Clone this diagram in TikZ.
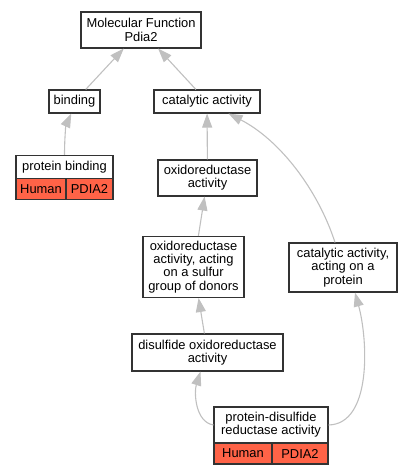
\documentclass[tikz,border=0pt]{standalone}
\usepackage{fontspec}
\setmainfont{Liberation Sans}
\usetikzlibrary{arrows.meta,calc}
\definecolor{edgec}{HTML}{C0C0C0}
\definecolor{boxc}{HTML}{333333}
\definecolor{hit}{HTML}{FF6347}
\begin{document}
\begin{tikzpicture}[x=1bp,y=-1bp,
  box/.style={draw=boxc, line width=1.1bp, fill=white, align=center, inner sep=0pt,
    font=\fontsize{12.9bp}{13.3bp}\selectfont},
  cell/.style={box, fill=hit},
  edge/.style={draw=edgec, line width=1.1bp, -{Triangle[length=14bp,width=10bp]}}]
\useasboundingbox (0,0) rectangle (412,475);

% nodes
\node[box, minimum width=120bp, minimum height=36bp] (mf) at (141,30) {Molecular Function\\Pdia2};
\node[box, minimum width=51bp, minimum height=23bp] (bind) at (74.5,101.5) {binding};
\node[box, minimum width=106bp, minimum height=23bp] (cat) at (207,101.5) {catalytic activity};
\node[box, minimum width=97bp, minimum height=23bp] (pb) at (64.5,167) {protein binding};
\node[cell, minimum width=50bp, minimum height=21bp] (pbh) at (41,189) {Human};
\node[cell, minimum width=47bp, minimum height=21bp] (pbp) at (89.5,189) {PDIA2};
\node[box, minimum width=99bp, minimum height=36bp] (ox) at (207.5,178) {oxidoreductase\\activity};
\node[box, minimum width=101bp, minimum height=61bp] (sulf) at (193.5,267) {oxidoreductase\\activity, acting\\on a sulfur\\group of donors};
\node[box, minimum width=108bp, minimum height=49bp] (catp) at (343,267.5) {catalytic activity,\\acting on a\\protein};
\node[box, minimum width=151bp, minimum height=37bp] (dis) at (207.5,352.5) {disulfide oxidoreductase\\activity};
\node[box, minimum width=114bp, minimum height=36bp] (pdr) at (271,425) {protein-disulfide\\reductase activity};
\node[cell, minimum width=58bp, minimum height=21bp] (pdrh) at (243,453.5) {Human};
\node[cell, minimum width=56bp, minimum height=21bp] (pdrp) at (300,453.5) {PDIA2};

% edges
\draw[edge] (bind) -- (mf);
\draw[edge] (cat) -- (mf);
\draw[edge] (pb.north) .. controls (64.5,138) and (66,125) .. (bind.255);
\draw[edge] (ox) -- (cat);
\draw[edge] (sulf) -- (ox);
\draw[edge] (dis) -- (sulf);
\draw[edge] ($(catp.north)+(-8,0)$) .. controls (318,190) and (280,140) .. ($(cat.south)+(21.5,0)$);
\draw[edge] (pdr.west) .. controls (195,422) and (194,392) .. ($(dis.south)+(-7,0)$);
\draw[edge] (pdr.east) .. controls (372,424) and (368,340) .. ($(catp.south)+(12,0)$);
\end{tikzpicture}
\end{document}
